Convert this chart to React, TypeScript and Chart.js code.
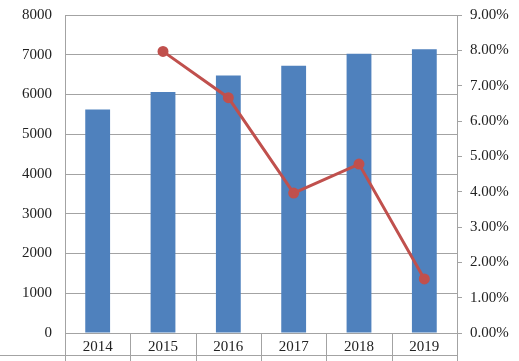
import React, { useEffect, useRef } from "react";
import { Chart, registerables } from "chart.js";

Chart.register(...registerables);

const categories = ["2014", "2015", "2016", "2017", "2018", "2019"];
const barValues = [5620, 6065, 6475, 6725, 7025, 7140];
const growthValues: (number | null)[] = [null, 7.97, 6.66, 3.96, 4.78, 1.53];

const FONT = "'Liberation Serif', 'Times New Roman', serif";
const GRID = "#a3a3a3";
const TEXT = "#222222";

const tableLines = {
  id: "tableLines",
  afterDraw(chart: any) {
    const { ctx, chartArea } = chart;
    const n = categories.length;
    const w = (chartArea.right - chartArea.left) / n;
    ctx.save();
    ctx.strokeStyle = GRID;
    ctx.lineWidth = 1;
    ctx.beginPath();
    for (let i = 0; i <= n; i++) {
      const x = Math.round(chartArea.left + i * w) + 0.5;
      ctx.moveTo(x, chartArea.bottom);
      ctx.lineTo(x, chart.height);
    }
    const y = Math.round(chartArea.bottom + 22) + 0.5;
    ctx.moveTo(0, y);
    ctx.lineTo(chartArea.right, y);
    ctx.stroke();
    ctx.restore();
  },
};

export default function App() {
  const ref = useRef<HTMLCanvasElement | null>(null);
  useEffect(() => {
    document.body.style.margin = "0";
    const chart = new Chart(ref.current as HTMLCanvasElement, {
      type: "bar",
      data: {
        labels: categories,
        datasets: [
          {
            type: "line",
            data: growthValues,
            yAxisID: "y1",
            borderColor: "#C0504D",
            backgroundColor: "#C0504D",
            borderWidth: 3,
            pointRadius: 4,
            pointBackgroundColor: "#C0504D",
            pointBorderColor: "#C0504D",
            order: 0,
            spanGaps: false,
          } as any,
          {
            type: "bar",
            data: barValues,
            yAxisID: "y",
            backgroundColor: "#4F81BD",
            categoryPercentage: 1,
            barPercentage: 0.38,
            order: 1,
          },
        ],
      },
      options: {
        animation: false,
        responsive: false,
        devicePixelRatio: 1,
        layout: { padding: { top: 15, left: 0, right: 0, bottom: 0 } },
        plugins: { legend: { display: false }, tooltip: { enabled: false } },
        scales: {
          x: {
            offset: true,
            grid: { display: false },
            border: { display: false },
            ticks: { font: { family: FONT, size: 15 }, color: TEXT, padding: -3 },
            afterFit: (s: any) => {
              s.height = 28;
            },
          },
          y: {
            position: "left",
            min: 0,
            max: 8000,
            ticks: {
              stepSize: 1000,
              font: { family: FONT, size: 15 },
              color: TEXT,
              padding: 13,
              callback: (v: any) => String(v),
            },
            grid: { color: GRID, drawTicks: false },
            border: { color: GRID },
            afterFit: (s: any) => {
              s.width = 65;
              s.paddingTop = 9;
              s.paddingBottom = 9;
            },
          },
          y1: {
            position: "right",
            min: 0,
            max: 9,
            ticks: {
              stepSize: 1,
              font: { family: FONT, size: 15 },
              color: TEXT,
              padding: 8,
              callback: (v: any) => Number(v).toFixed(2) + "%",
            },
            grid: { drawOnChartArea: false, color: GRID, tickLength: 5 },
            border: { color: GRID },
            afterFit: (s: any) => {
              s.width = 62;
              s.paddingTop = 9;
              s.paddingBottom = 9;
            },
          },
        },
      },
      plugins: [tableLines],
    });
    return () => chart.destroy();
  }, []);
  return (
    <div style={{ width: 519, height: 361 }}>
      <canvas ref={ref} width={519} height={361} />
    </div>
  );
}
